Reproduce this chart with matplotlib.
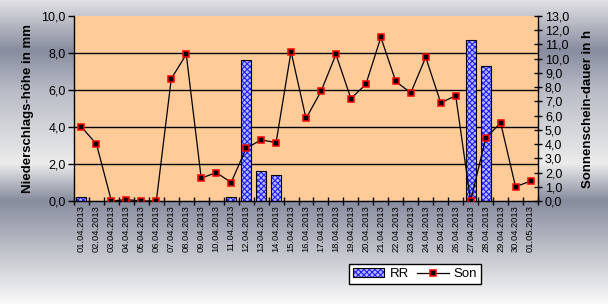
import numpy as np
import matplotlib.pyplot as plt
from matplotlib.ticker import MultipleLocator, FuncFormatter

# Daten
tage = ['%02d.04.2013' % d for d in range(1, 31)] + ['01.05.2013']
rr = [0.2, 0, 0, 0, 0, 0, 0, 0, 0, 0, 0.2, 7.6, 1.6, 1.4, 0, 0, 0, 0, 0, 0,
      0, 0, 0, 0, 0, 0, 8.7, 7.3, 0, 0, 0]
son = [5.2, 4.0, 0.0, 0.1, 0.0, 0.0, 8.6, 10.3, 1.6, 2.0, 1.3, 3.7, 4.3, 4.1, 10.5, 5.8,
       7.7, 10.3, 7.2, 8.2, 11.5, 8.4, 7.6, 10.1, 6.9, 7.4, 0.0, 4.4, 5.5, 1.0, 1.4]

plt.rcParams['font.family'] = ['Liberation Sans', 'DejaVu Sans']
plt.rcParams['hatch.linewidth'] = 0.8

fig = plt.figure(figsize=(6.08, 3.04), dpi=100)

# Hintergrund mit Verlauf
stops_y = [0, 50, 90, 163, 200, 250, 304]
stops_c = np.array([[225, 225, 228], [135, 140, 158], [185, 188, 198], [236, 236, 236],
                    [135, 140, 158], [192, 194, 202], [250, 250, 250]]) / 255.0
yy = np.arange(304)
grad = np.stack([np.interp(yy, stops_y, stops_c[:, k]) for k in range(3)], axis=1)
grad = np.repeat(grad[:, None, :], 2, axis=1)
bg = fig.add_axes([0, 0, 1, 1], zorder=-10)
bg.imshow(grad, aspect='auto', extent=[0, 1, 0, 1])
bg.axis('off')

ax = fig.add_axes([74 / 608, 1 - 201 / 304, 464 / 608, 185 / 304])
ax.set_facecolor('#ffcc99')
x = np.arange(len(tage))

# Balken
balken_farbe = '#b8b8ff'
ax.bar(x, rr, width=0.67, color=balken_farbe, edgecolor='#2020ff', hatch='xxxxxx', linewidth=0, zorder=2)
ax.bar(x, rr, width=0.67, fill=False, edgecolor='black', linewidth=0.8, zorder=3)

ax.set_ylim(0, 10)
ax.set_xlim(-0.5, len(tage) - 0.5)
ax.yaxis.set_major_locator(MultipleLocator(2))
fmt = FuncFormatter(lambda v, p: ('%.1f' % v).replace('.', ','))
ax.yaxis.set_major_formatter(fmt)
for yv in [2, 4, 6, 8]:
    ax.axhline(yv, color='black', lw=1, zorder=1)

ax.set_xticks(np.arange(-0.5, len(tage), 1), minor=False)
ax.set_xticklabels([])
ax.set_xticks(x, minor=True)
ax.set_xticklabels(tage, minor=True, rotation=90, fontsize=6.7)
ax.tick_params(axis='x', which='major', direction='inout', length=6, width=1)
ax.tick_params(axis='x', which='minor', length=0, pad=3)
ax.tick_params(axis='y', direction='out', length=4, width=1, labelsize=9, pad=2)
ax.set_ylabel('Niederschlags-höhe in mm', fontsize=9.5, fontweight='bold', labelpad=5)

for s in ['top', 'right']:
    ax.spines[s].set_visible(False)
ax.spines['left'].set_linewidth(1)
ax.spines['bottom'].set_linewidth(1)

# Sonnenscheindauer
ax2 = ax.twinx()
ax2.plot(x, son, color='black', lw=0.9, marker='s', markersize=4.5,
         markerfacecolor='black', markeredgecolor='red', markeredgewidth=1.1, zorder=5)
ax2.set_ylim(0, 13)
ax2.yaxis.set_major_locator(MultipleLocator(1))
ax2.yaxis.set_major_formatter(fmt)
ax2.tick_params(axis='y', direction='inout', length=6, width=1, labelsize=9, pad=2)
ax2.set_ylabel('Sonnenschein-dauer in h', fontsize=9.5, fontweight='bold', labelpad=9)
ax2.yaxis.set_label_position('right')
for s in ['top', 'left', 'bottom']:
    ax2.spines[s].set_visible(False)
ax2.spines['right'].set_linewidth(1)

# Legende
h1 = plt.Rectangle((0, 0), 1, 1, facecolor=balken_farbe, edgecolor='#2020ff', hatch='xxxxxx', lw=0)
h1b = plt.Rectangle((0, 0), 1, 1, fill=False, edgecolor='black', lw=0.8)
h2, = ax2.plot([], [], color='black', lw=0.9, marker='s', markersize=4.5,
               markerfacecolor='black', markeredgecolor='red', markeredgewidth=1.1)
leg = fig.legend([(h1, h1b), h2], ['RR', 'Son'], loc='center', bbox_to_anchor=(415 / 608, 1 - 274 / 304),
                 ncol=2, fontsize=9.5, frameon=True, fancybox=False, edgecolor='black',
                 handlelength=2.4, handletextpad=0.4, columnspacing=0.6, borderpad=0.3)
leg.get_frame().set_linewidth(1)
leg.get_frame().set_facecolor('white')
leg.get_frame().set_alpha(1)

fig.savefig('out.png', dpi=100)
